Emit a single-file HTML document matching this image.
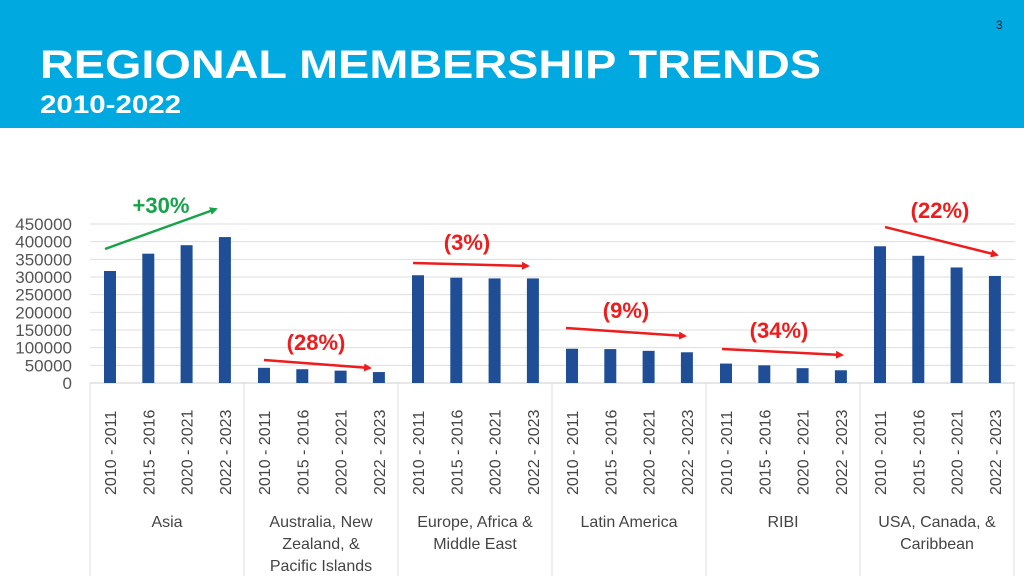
<!DOCTYPE html>
<html><head><meta charset="utf-8"><style>
body{margin:0;width:1024px;height:576px;overflow:hidden;background:#fff;font-family:"Liberation Sans",sans-serif;}
#hdr{position:absolute;left:0;top:0;width:1024px;height:128px;background:#00A9E0;}
#t1{position:absolute;left:40px;top:43px;color:#fff;font-weight:bold;font-size:40px;transform:scaleX(1.17);transform-origin:0 0;white-space:nowrap;}
#t2{position:absolute;left:40px;top:91px;color:#fff;font-weight:bold;font-size:25px;transform:scaleX(1.18);transform-origin:0 0;white-space:nowrap;}
#pg{position:absolute;left:996px;top:18px;color:#222;font-size:12px;}
</style></head><body>
<div id="hdr">
<div id="t1">REGIONAL MEMBERSHIP TRENDS</div>
<div id="t2">2010-2022</div>
<div id="pg">3</div>
</div>
<svg id="c" width="1024" height="576" style="position:absolute;left:0;top:0"></svg>
<script>
const regions=[["Asia"],["Australia, New","Zealand, &","Pacific Islands"],["Europe, Africa &","Middle East"],["Latin America"],["RIBI"],["USA, Canada, &","Caribbean"]];
const periods=["2010 - 2011","2015 - 2016","2020 - 2021","2022 - 2023"];
const asia=[317000,366000,390000,413000];
const anz=[43000,39000,35000,31000];
const eame=[305000,298000,296000,296000];
const latam=[97000,96000,91000,87000];
const ribi=[55000,50000,42000,36000];
const usa=[387000,360000,327000,303000];
const yTicks=[0,50000,100000,150000,200000,250000,300000,350000,400000,450000];
const series=[asia,anz,eame,latam,ribi,usa];
const NS="http://www.w3.org/2000/svg",svg=document.getElementById('c');
const X0=90,GW=154,Y0=383,YMAX=450000,YH=159;
const y=v=>Y0-v/YMAX*YH;
const x=(g,i)=>X0+g*GW+20+i*38.3;
function mk(t,a,p){const e=document.createElementNS(NS,t);for(const k in a)e.setAttribute(k,a[k]);(p||svg).appendChild(e);return e;}
yTicks.forEach(v=>{
 if(v>0){const l=mk('line',{x1:X0,x2:1015,y1:y(v),y2:y(v),stroke:'#dedede','stroke-width':1});
 
 }
 const t=mk('text',{x:72,y:y(v)+6,'text-anchor':'end','font-size':17,fill:'#555'});t.textContent=v;
 
 
});
const ax=mk('line',{x1:X0,x2:1015,y1:Y0,y2:Y0,stroke:'#ccc'});


for(let g=0;g<=6;g++){const l=mk('line',{x1:X0+g*GW,x2:X0+g*GW,y1:Y0,y2:576,stroke:'#ddd'});
 
 }
series.forEach((s,g)=>{
 s.forEach((v,i)=>{
  const r=mk('rect',{x:x(g,i)-6,y:y(v),width:12,height:Y0-y(v),fill:'#1F4E96'});
  
  
  const t=mk('text',{transform:`translate(${x(g,i)+6},495) rotate(-90)`,'font-size':16,fill:'#444'});t.textContent=periods[i];
  
  
 });
 regions[g].forEach((ln,k)=>{const t=mk('text',{x:X0+g*GW+GW/2,y:527+k*22,'text-anchor':'middle','font-size':16,fill:'#444'});t.textContent=ln;
  
  });
});
const defs=mk('defs',{});
[['ag','#16A34A'],['ar','#EE1C1C']].forEach(([id,c])=>{const m=mk('marker',{id,markerWidth:8,markerHeight:8,refX:6,refY:4,orient:'auto',markerUnits:'userSpaceOnUse'},defs);mk('path',{d:'M0,0 L8,4 L0,8 z',fill:c},m);});
const ann=[["+30%",'#16A34A','ag',161,213,105,249,216,209],["(28%)",'#EE1C1C','ar',316,350,264,360,370,368],["(3%)",'#EE1C1C','ar',467,250,413,263,528,266],["(9%)",'#EE1C1C','ar',626,318,566,328,685,336],["(34%)",'#EE1C1C','ar',779,338,722,349,842,355],["(22%)",'#EE1C1C','ar',940,218,885,227,997,255]];
ann.forEach(a=>{
 const t=mk('text',{x:a[3],y:a[4],'text-anchor':'middle','font-size':22,'font-weight':'bold',fill:a[1]});t.textContent=a[0];
 
 
 const l=mk('line',{x1:a[5],y1:a[6],x2:a[7],y2:a[8],stroke:a[1],'stroke-width':2.5,'marker-end':`url(#${a[2]})`});
 
 
});
</script>
</body></html>
